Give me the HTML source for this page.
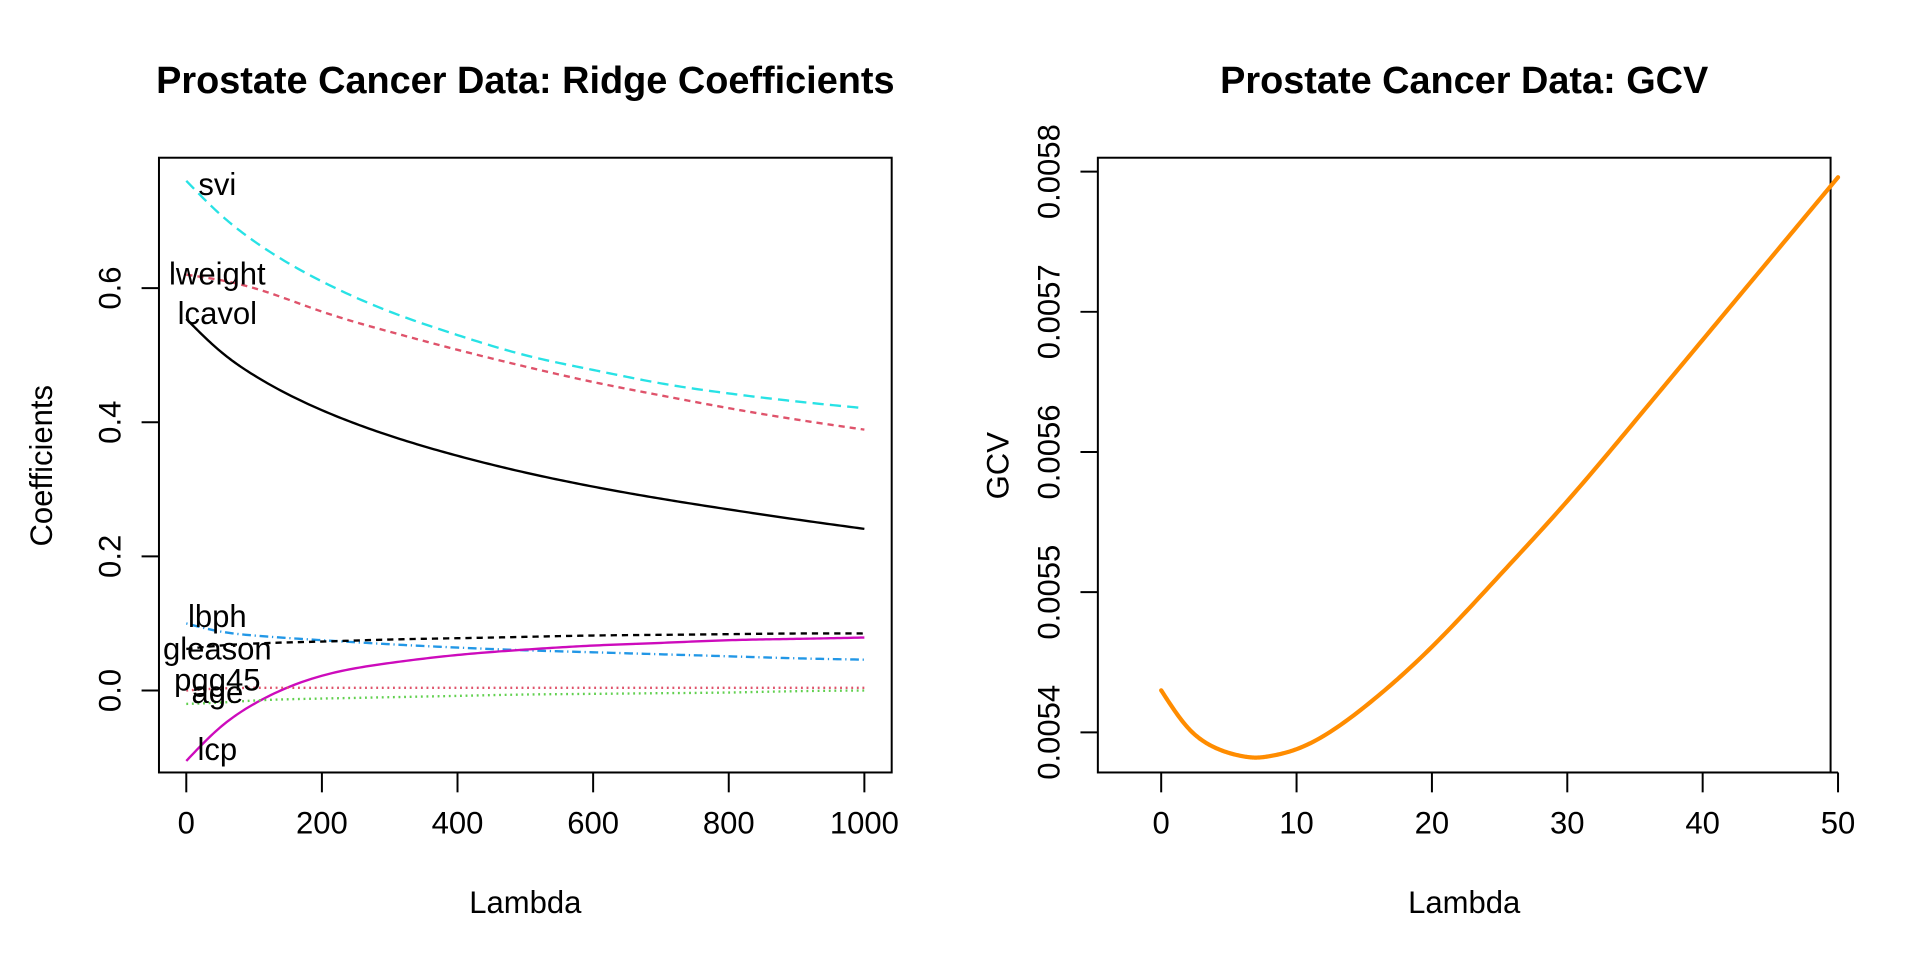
<!DOCTYPE html>
<html><head><meta charset="utf-8"><style>html,body{margin:0;padding:0;background:#fff}svg{display:block}text{font-family:"Liberation Sans",sans-serif;fill:#000}</style></head>
<body>
<svg id="c" width="1920" height="960" viewBox="0 0 1546 773"></svg>
<script>
const lambdas=[0,50,100,200,300,400,500,600,700,800,900,1000];
const svi=[0.76,0.71,0.67,0.61,0.565,0.53,0.50,0.478,0.458,0.443,0.431,0.421];
const lweight=[0.62,0.612,0.60,0.565,0.535,0.508,0.483,0.46,0.44,0.421,0.404,0.389];
const lcavol=[0.554,0.506,0.470,0.418,0.380,0.350,0.325,0.304,0.286,0.270,0.255,0.241];
const lbph=[0.10,0.088,0.082,0.075,0.069,0.064,0.06,0.057,0.054,0.051,0.048,0.046];
const gleason=[0.062,0.067,0.07,0.073,0.076,0.078,0.08,0.082,0.083,0.084,0.085,0.085];
const lcp=[-0.105,-0.055,-0.02,0.022,0.041,0.053,0.061,0.067,0.071,0.075,0.077,0.079];
const pgg45=[0.0,0.003,0.004,0.004,0.004,0.004,0.004,0.004,0.004,0.004,0.004,0.004];
const age=[-0.02,-0.018,-0.015,-0.012,-0.01,-0.008,-0.006,-0.005,-0.004,-0.003,-0.001,0.0];
const ridgeXTicks=[0,200,400,600,800,1000];
const ridgeYTicks=[0.0,0.2,0.4,0.6];
const gcvLambda=[0,2,4,6,7,8,10,15,20,25,30,35,40,45,50];
const gcvValues=[0.00543,0.005403,0.005389,0.005383,0.005382,0.005383,0.005388,0.005418,0.005461,0.005512,0.005565,0.005622,0.00568,0.005738,0.005796];
const gcvXTicks=[0,10,20,30,40,50];
const gcvYTicks=[0.0054,0.0055,0.0056,0.0057,0.0058];

const NS="http://www.w3.org/2000/svg";
const svg=document.getElementById('c');
function mk(tag,attrs,parent){const e=document.createElementNS(NS,tag);for(const k in attrs)e.setAttribute(k,attrs[k]);(parent||svg).appendChild(e);return e;}
function txt(s,x,y,size,attrs){const t=mk('text',Object.assign({x:x,y:y,'font-size':size},attrs||{}));t.textContent=s;return t;}
function spline(xs,ys,fx,fy){const n=xs.length,h=[],a=[],l=[1],mu=[0],z=[0],c=new Array(n).fill(0),b=[],d=[];
 for(let i=0;i<n-1;i++)h.push(xs[i+1]-xs[i]);
 for(let i=1;i<n-1;i++)a[i]=3/h[i]*(ys[i+1]-ys[i])-3/h[i-1]*(ys[i]-ys[i-1]);
 for(let i=1;i<n-1;i++){l[i]=2*(xs[i+1]-xs[i-1])-h[i-1]*mu[i-1];mu[i]=h[i]/l[i];z[i]=(a[i]-h[i-1]*z[i-1])/l[i];}
 for(let j=n-2;j>=0;j--){c[j]=(j>0?z[j]-mu[j]*c[j+1]:0);b[j]=(ys[j+1]-ys[j])/h[j]-h[j]*(c[j+1]+2*c[j])/3;d[j]=(c[j+1]-c[j])/(3*h[j]);}
 let p='';for(let i=0;i<n-1;i++){for(let k=0;k<=20;k++){if(i>0&&k==0)continue;const t=h[i]*k/20;const v=ys[i]+b[i]*t+c[i]*t*t+d[i]*t*t*t;p+=(p?' L':'M')+fx(xs[i]+t).toFixed(2)+','+fy(v).toFixed(2);}}return p;}

// Left panel
const L={x0:128,x1:718,y0:127,y1:622};
const lx=v=>150+v*(696-150)/1000;
const ly=v=>556-v*(556-232)/0.6;
let g=mk('g',{});


let box=mk('rect',{x:L.x0,y:L.y0,width:L.x1-L.x0,height:L.y1-L.y0,fill:'none',stroke:'#000','stroke-width':1.6},g);

let t=txt('Prostate Cancer Data: Ridge Coefficients',423,75,30.5,{'font-weight':'bold','text-anchor':'middle'});

ridgeXTicks.forEach(v=>{mk('line',{x1:lx(v),x2:lx(v),y1:L.y1,y2:L.y1+16,stroke:'#000','stroke-width':1.6},g);const e=txt(String(v),lx(v),L.y1+49,25,{'text-anchor':'middle'});});
mk('line',{x1:lx(0),x2:lx(1000),y1:L.y1,y2:L.y1,stroke:'#000','stroke-width':1.6},g);
ridgeYTicks.forEach(v=>{mk('line',{x1:L.x0,x2:L.x0-14,y1:ly(v),y2:ly(v),stroke:'#000','stroke-width':1.6},g);const e=txt(v.toFixed(1),0,0,25,{'text-anchor':'middle',transform:'translate('+(L.x0-40)+','+ly(v)+') rotate(-90) translate(0,9)'});});
t=txt('Lambda',423,735,25,{'text-anchor':'middle'});
t=txt('Coefficients',0,0,25,{'text-anchor':'middle',transform:'translate(42,375) rotate(-90)'});
const series=[
 ['svi',svi,'#28E2E5','9,5',149],
 ['lweight',lweight,'#DF536B','5,4',221],
 ['lcavol',lcavol,'#000','',253],
 ['lbph',lbph,'#2297E6','1,3,7,3',497],
 ['gleason',gleason,'#000','5,4',523],
 ['lcp',lcp,'#CD0BBC','',604],
 ['pgg45',pgg45,'#DF536B','1.5,3',548],
 ['age',age,'#61D04F','1.5,3',558]
];
series.forEach(s=>{const p=mk('path',{d:spline(lambdas,s[1],lx,ly),fill:'none',stroke:s[2],'stroke-width':1.9,'stroke-dasharray':s[3]},g);});
series.forEach(s=>{const e=txt(s[0],175,s[4]+8,25,{'text-anchor':'middle'});});

// Right panel
const R={x0:884,x1:1474,y0:127,y1:622};
const rx=v=>935+v*(1480-935)/50;
const ry=v=>589.7-(v-0.0054)*(589.7-138.2)/0.0004;
let g2=mk('g',{});


box=mk('rect',{x:R.x0,y:R.y0,width:R.x1-R.x0,height:R.y1-R.y0,fill:'none',stroke:'#000','stroke-width':1.6},g2);

t=txt('Prostate Cancer Data: GCV',1179,75,30.5,{'font-weight':'bold','text-anchor':'middle'});

gcvXTicks.forEach(v=>{mk('line',{x1:rx(v),x2:rx(v),y1:R.y1,y2:R.y1+16,stroke:'#000','stroke-width':1.6},g2);const e=txt(String(v),rx(v),R.y1+49,25,{'text-anchor':'middle'});});
mk('line',{x1:rx(0),x2:rx(50),y1:R.y1,y2:R.y1,stroke:'#000','stroke-width':1.6},g2);
gcvYTicks.forEach(v=>{mk('line',{x1:R.x0,x2:R.x0-14,y1:ry(v),y2:ry(v),stroke:'#000','stroke-width':1.6},g2);const e=txt(v.toFixed(4),0,0,25,{'text-anchor':'middle',transform:'translate('+(R.x0-40)+','+ry(v)+') rotate(-90) translate(0,9)'});});
t=txt('Lambda',1179,735,25,{'text-anchor':'middle'});
t=txt('GCV',0,0,25,{'text-anchor':'middle',transform:'translate(812,375) rotate(-90)'});
const gp=mk('path',{d:spline(gcvLambda,gcvValues,rx,ry),fill:'none',stroke:'#FF8C00','stroke-width':3.4,'stroke-linecap':'round','stroke-linejoin':'round'},g2);


</script>
</body></html>
